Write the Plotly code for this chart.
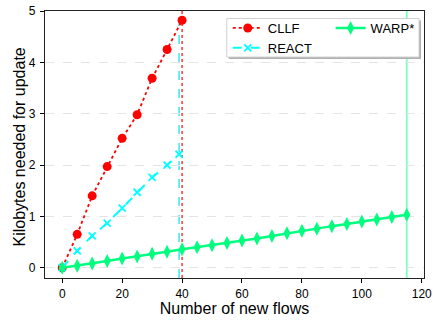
import plotly.graph_objects as go

cllf_x = [0, 5, 10, 15, 20, 25, 30, 35, 40]
cllf_y = [0, 0.65, 1.40, 1.97, 2.52, 2.98, 3.69, 4.25, 4.82]

react_x = [0, 5, 10, 15, 20, 25, 30, 35, 39]
react_y = [0, 0.33, 0.62, 0.87, 1.16, 1.47, 1.76, 2.00, 2.21]

warp_x = [0, 5, 10, 15, 20, 25, 30, 35, 40, 45, 50, 55, 60, 65, 70, 75, 80, 85, 90, 95, 100, 105, 110, 115]
warp_y = [0, 0.04, 0.08, 0.13, 0.18, 0.22, 0.27, 0.31, 0.36, 0.40, 0.44, 0.48, 0.53, 0.57, 0.62, 0.67, 0.72, 0.76, 0.81, 0.85, 0.90, 0.94, 0.99, 1.03]

vline_x = [40, 39, 115]
vline_colors = ["#ff0000", "#00e5ee", "#7dffbe"]
vline_dash = ["dot", "dash", "solid"]

x_ticks = [0, 20, 40, 60, 80, 100, 120]
y_ticks = [0, 1, 2, 3, 4, 5]

FONT = "Liberation Sans, Arial, sans-serif"

fig = go.Figure()

for vx, vc, vd in zip(vline_x, vline_colors, vline_dash):
    fig.add_vline(x=vx, line=dict(color=vc, width=1.2 if vd != "solid" else 1.8, dash=vd), layer="below")

fig.add_trace(go.Scatter(
    x=cllf_x, y=cllf_y, name="CLLF", mode="lines+markers",
    line=dict(color="#ff0000", width=1.8, dash="dot"),
    marker=dict(symbol="circle", size=9, color="#ff0000"),
    legend="legend",
))
fig.add_trace(go.Scatter(
    x=react_x, y=react_y, name="REACT", mode="lines+markers",
    line=dict(color="#00ffff", width=2, dash="dash"),
    marker=dict(symbol="x-thin", size=7, color="#00ffff", line=dict(color="#00ffff", width=1.8)),
    legend="legend",
))
fig.add_trace(go.Scatter(
    x=warp_x, y=warp_y, name="WARP*", mode="lines+markers",
    line=dict(color="#00ff7f", width=2.5),
    marker=dict(symbol="diamond-tall", size=10, color="#00ff7f"),
    legend="legend2",
))

# legend frame with shadow
fig.add_shape(type="rect", xref="paper", yref="paper",
              x0=(229 - 45) / 379.5, x1=(421.5 - 45) / 379.5,
              y0=(278 - 59) / 267, y1=(278 - 20.5) / 267,
              line=dict(width=0), fillcolor="#b0b0b0", layer="above")
fig.add_shape(type="rect", xref="paper", yref="paper",
              x0=(227 - 45) / 379.5, x1=(419.5 - 45) / 379.5,
              y0=(278 - 57) / 267, y1=(278 - 18.5) / 267,
              line=dict(width=1, color="#d0d0d0"), fillcolor="white", layer="above")

fig.add_annotation(text="Kilobytes needed for update", textangle=-90,
                   xref="paper", yref="paper", x=(18.5 - 45) / 379.5, y=(278 - 147) / 267,
                   xanchor="center", yanchor="middle", showarrow=False,
                   font=dict(size=16, family=FONT, color="black"))

fig.update_layout(
    width=433, height=322,
    margin=dict(l=45, r=8.5, t=11, b=44, autoexpand=False),
    paper_bgcolor="white", plot_bgcolor="white",
    font=dict(family=FONT, color="black", size=12),
    showlegend=True,
    legend=dict(x=(228 - 45) / 379.5, y=(278 - 13) / 267, xanchor="left", yanchor="top",
                bgcolor="rgba(0,0,0,0)", borderwidth=0, font=dict(size=13, family=FONT),
                tracegroupgap=0, itemwidth=30),
    legend2=dict(x=(331 - 45) / 379.5, y=(278 - 13) / 267, xanchor="left", yanchor="top",
                 bgcolor="rgba(0,0,0,0)", borderwidth=0, font=dict(size=13, family=FONT),
                 itemwidth=30),
    xaxis=dict(
        range=[-5.75, 120.75], tickvals=x_ticks, ticks="outside", ticklen=4, tickcolor="black",
        showline=True, linecolor="#222", linewidth=1.2, mirror=True, showgrid=False, zeroline=False,
        tickfont=dict(size=12), automargin=False,
        title=dict(text="Number of new flows", font=dict(size=16), standoff=2),
    ),
    yaxis=dict(
        range=[-0.2, 5], tickvals=y_ticks, ticks="outside", ticklen=4, tickcolor="black",
        showline=True, linecolor="#222", linewidth=1.2, mirror=True,
        showgrid=True, gridcolor="#e4e4e4", griddash="dash", gridwidth=0.7, zeroline=False,
        tickfont=dict(size=12), automargin=False, ticklabelstandoff=2,
    ),
)

fig.write_html("out.html")
